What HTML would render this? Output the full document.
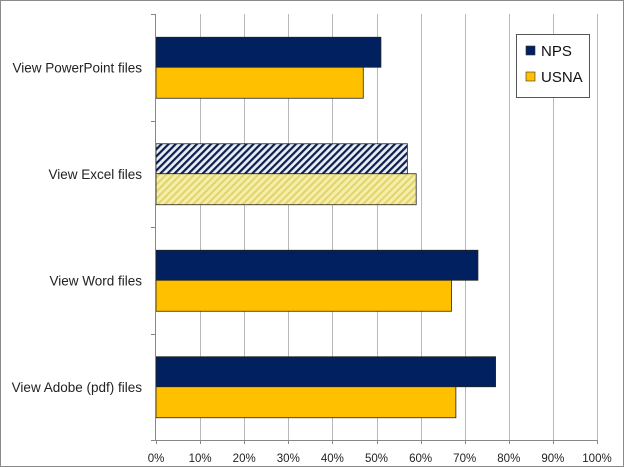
<!DOCTYPE html>
<html><head><meta charset="utf-8"><style>
html,body{margin:0;padding:0;background:#fff}
svg{display:block;font-family:"Liberation Sans",sans-serif}
</style></head><body>
<svg id="chart" width="624" height="467">
<defs>
<pattern id="hatchNavy" patternUnits="userSpaceOnUse" width="5" height="5" patternTransform="rotate(45)">
<rect width="5" height="5" fill="#e8eef4"/><rect width="2.2" height="5" fill="#0d1f4f"/></pattern>
<pattern id="hatchGold" patternUnits="userSpaceOnUse" width="5" height="5" patternTransform="rotate(45)">
<rect width="5" height="5" fill="#f5eeaa"/><rect width="2" height="5" fill="#e2d46a"/></pattern>
</defs>
<rect x="0.5" y="0.5" width="623" height="466" fill="#fff" stroke="#8a8a8a"/>
<g id="grid"></g><g id="bars"></g><g id="axes"></g>
<g>
<rect x="516.5" y="34.5" width="73" height="63" fill="#fff" stroke="#555"/>
<rect x="526" y="46" width="9" height="9" fill="#00205f" stroke="#333" stroke-width="0.6"/>
<text x="541" y="56" font-size="15" fill="#111">NPS</text>
<rect x="526" y="72" width="9" height="9" fill="#ffc000" stroke="#333" stroke-width="0.6"/>
<text x="541" y="82" font-size="15" fill="#111">USNA</text>
</g>
</svg>
<script>
const categories = ["View PowerPoint files","View Excel files","View Word files","View Adobe (pdf) files"];
const npsValues = [51, 57, 73, 77];
const usnaValues = [47, 59, 67, 68];
const tickLabels = ["0%","10%","20%","30%","40%","50%","60%","70%","80%","90%","100%"];
const tickValues = [0,10,20,30,40,50,60,70,80,90,100];
const NS="http://www.w3.org/2000/svg";
const x0=156,x1=597,yTop=14,yBot=440;
const xs=v=>x0+(x1-x0)*v/100;
const band=(yBot-yTop)/categories.length;
function mk(t,a,p){const e=document.createElementNS(NS,t);for(const k in a)e.setAttribute(k,a[k]);p.appendChild(e);return e;}
const grid=document.getElementById('grid'),bars=document.getElementById('bars'),axes=document.getElementById('axes');
tickValues.forEach((v,i)=>{
 const x=Math.round(xs(v))+0.5;
 if(v>0){const l=mk('line',{x1:x,x2:x,y1:yTop,y2:yBot,stroke:'#b8b8b8'},grid);
 
 }
 const tk=mk('line',{x1:x,x2:x,y1:yBot,y2:yBot+4,stroke:'#888'},axes);
 
 
 const t=mk('text',{x:xs(v),y:462,'font-size':11.5,'text-anchor':'middle',fill:'#222'},axes);
 t.textContent=tickLabels[i];
 
 
});
const ax=mk('line',{x1:x0-0.5,x2:x0-0.5,y1:yTop,y2:yBot,stroke:'#888'},axes);


const bx=mk('line',{x1:x0-4,x2:x1,y1:yBot+0.5,y2:yBot+0.5,stroke:'#888'},axes);


for(let i=0;i<=categories.length;i++){
 const y=Math.round(yTop+band*i)+0.5;
 const tk=mk('line',{x1:x0-5,x2:x0,y1:y,y2:y,stroke:'#888'},axes);
 
 
}
categories.forEach((c,i)=>{
 const cy=yTop+band*(i+0.5);
 const t=mk('text',{x:142,y:cy+5,'font-size':13.5,'text-anchor':'end',fill:'#222'},axes);
 t.textContent=c;
 
 
 const excel=i===1;
 const b1=mk('rect',{x:x0,y:cy-30,width:xs(npsValues[i])-x0,height:30,fill:excel?'url(#hatchNavy)':'#00205f',stroke:'#222','stroke-width':0.8},bars);
 
 
 const b2=mk('rect',{x:x0,y:cy,width:xs(usnaValues[i])-x0,height:31,fill:excel?'url(#hatchGold)':'#ffc000',stroke:'#222','stroke-width':0.8},bars);
 
 
});
</script>
</body></html>
